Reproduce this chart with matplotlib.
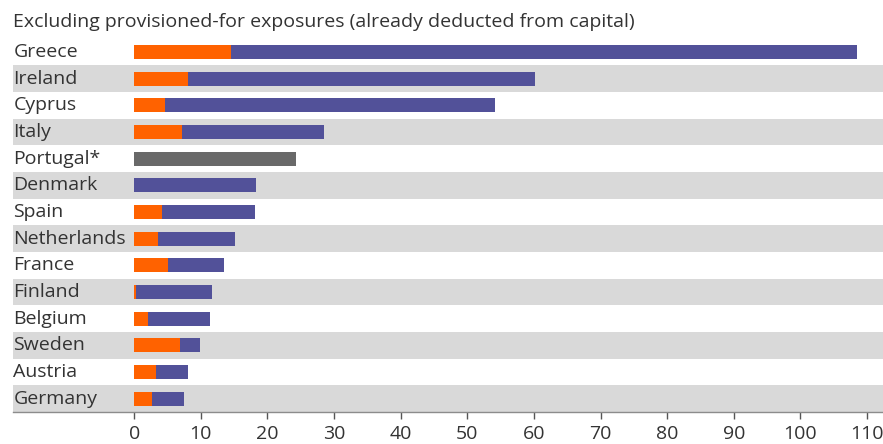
import matplotlib
matplotlib.use("Agg")
import matplotlib.pyplot as plt
import numpy as np

countries = ["Greece", "Ireland", "Cyprus", "Italy", "Portugal*", "Denmark", "Spain",
             "Netherlands", "France", "Finland", "Belgium", "Sweden", "Austria", "Germany"]
orange_vals = [14.6, 8.0, 4.6, 7.1, 0.0, 0.0, 4.2, 3.6, 5.1, 0.3, 2.1, 6.9, 3.3, 2.7]
purple_vals = [93.9, 52.2, 49.6, 21.4, 0.0, 18.3, 14.0, 11.6, 8.3, 11.3, 9.3, 2.9, 4.8, 4.8]
gray_vals = [0, 0, 0, 0, 24.3, 0, 0, 0, 0, 0, 0, 0, 0, 0]
xticks = [0, 10, 20, 30, 40, 50, 60, 70, 80, 90, 100, 110]
title = "Excluding provisioned-for exposures (already deducted from capital)"

ORANGE = "#FF6200"
PURPLE = "#525199"
GRAY = "#696969"
STRIPE = "#D9D9D9"
TEXT = "#333333"

plt.rcParams['font.family'] = ['Open Sans', 'DejaVu Sans']

fig = plt.figure(figsize=(8.83, 4.44), dpi=100)
ax = fig.add_axes([13/883, (444-412)/444, 870/883, (412-38.7)/444])

n = len(countries)
y = np.arange(n)
for i in range(n):
    if i % 2 == 1:
        ax.axhspan(i - 0.5, i + 0.5, color=STRIPE, zorder=0, lw=0)

h = 0.53
ax.barh(y, orange_vals, height=h, color=ORANGE, zorder=2)
ax.barh(y, purple_vals, left=orange_vals, height=h, color=PURPLE, zorder=2)
ax.barh(y, gray_vals, height=h, color=GRAY, zorder=2)

xmin, xmax = -18.2, 112.4
ax.set_xlim(xmin, xmax)
ax.set_ylim(n - 0.5, -0.5)

for i, c in enumerate(countries):
    ax.text(xmin + 0.05, i, c, ha="left", va="center", fontsize=14, color=TEXT, zorder=3)

ax.set_yticks([])
ax.set_xticks(xticks)
ax.set_xticklabels([str(t) for t in xticks], fontsize=14, color=TEXT)
ax.tick_params(axis="x", length=5, width=1, color="#555555", pad=4)
for s in ["top", "right", "left"]:
    ax.spines[s].set_visible(False)
ax.spines["bottom"].set_color("#8C8C8C")
ax.spines["bottom"].set_linewidth(1)

fig.text(13/883, 1 - 22/444, title, ha="left", va="center", fontsize=14, color=TEXT)

fig.savefig("out.png", dpi=100)
